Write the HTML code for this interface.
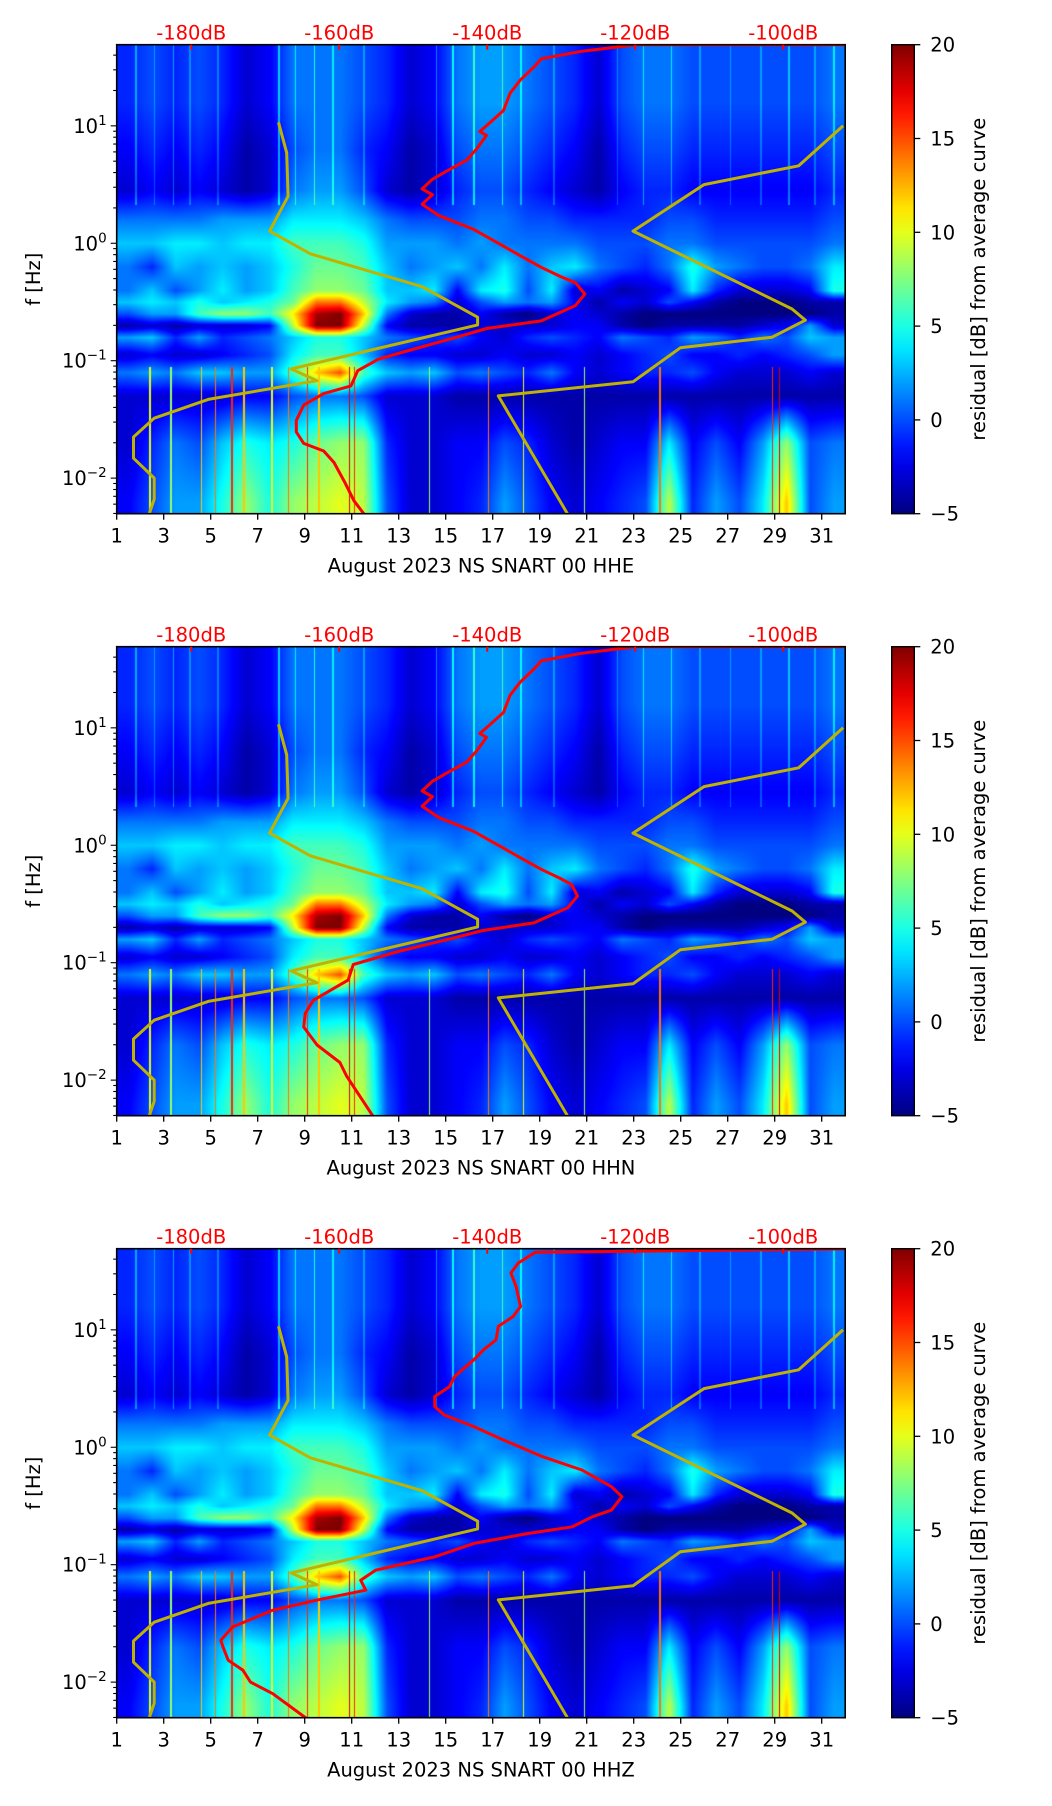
<!DOCTYPE html>
<html><head><meta charset="utf-8">
<style>
html,body{margin:0;padding:0;background:#fff;}
#root{position:relative;width:1052px;height:1806px;overflow:hidden;font-family:"DejaVu Sans","Liberation Sans",sans-serif;}
canvas{position:absolute;}
svg{position:absolute;left:0;top:0;}
</style></head>
<body>
<div id="root"></div>
<script>
// ---------- data ----------
const dayTicks = [1,3,5,7,9,11,13,15,17,19,21,23,25,27,29,31];
const dbTicks = [-180,-160,-140,-120,-100];
const cbTicks = [-5,0,5,10,15,20];
const yDecades = [-2,-1,0,1];
const channels = ["HHE","HHN","HHZ"];
// heatmap rows: log10(f) centers, values per day (day 1..31)
const rowLogF = [1.6,1.2,0.8,0.45,0.2,0.0,-0.2,-0.4,-0.5,-0.6,-0.7,-0.8,-0.95,-1.1,-1.3,-1.7,-2.2];
const rowA = [-1,0,-1,0,-1,-3,-2,1,1,1,0,-1,-3,-2,1,2,2,1,0,-1,-3,0,1,1,0,0,0,0,0,0,1];
const rowB = [-1,0,-1,0,-1,-3,-2,1,1,1,0,-1,-3,-2,1,2,2,1,0,-1,-3,0,1,1,0,0,0,0,0,0,1];
const rowC = [-2,-1,-2,-1,-2,-4,-3,0,1,1,-1,-2,-4,-3,0,1,1,0,-1,-2,-4,-1,0,0,-1,-1,-1,-1,-1,-1,0];
const rowD = [-3,-2,-3,-2,-3,-4,-3,1,2,2,0,-3,-4,-3,-1,0,0,-1,-2,-3,-4,-2,-1,-1,-2,-2,-2,-2,-2,-2,-1];
const rowE = [1,1,1,1,2,2,2,4,4,4,3,1,0,0,0,1,1,0,0,-1,-1,-1,-1,0,0,-1,-1,-1,-1,-1,0];
const rowF = [3,3,4,4,3,4,4,6,6,6,5,2,2,2,1,2,1,1,1,1,0,0,0,1,1,0,0,0,0,0,1];
const rowG = [1,-1,3,2,3,2,3,5,7,7,6,3,1,2,3,1,4,1,3,4,1,0,-1,1,5,2,1,0,0,1,4];
const rowH = [1,3,0,2,4,2,3,6,8,8,7,3,3,4,-2,4,5,0,4,-3,-2,-4,-3,-2,4,-1,-3,-3,-3,-2,5];
const rowI = [3,4,3,5,3,4,5,7,14,14,9,4,2,1,-3,0,2,1,2,-2,-4,-2,-3,0,-2,-4,-5,-5,-5,-4,-4];
const rowJ = [0,2,2,6,8,8,6,11,19,20,12,1,-3,-4,-4,-2,-4,-5,-3,-2,-3,-4,-5,-5,-5,-5,-5,-5,-5,-5,-4];
const rowK = [-4,-3,-4,-3,-3,-3,-2,9,20,20,9,-2,-4,-4,-4,-3,-3,-3,-3,-2,-2,-4,-5,-4,-4,-4,-4,-3,-2,2,-3];
const rowL = [2,3,-1,2,-1,0,1,3,5,5,3,1,0,-1,0,-2,-3,-1,0,-1,-2,1,0,-1,2,1,-1,1,0,3,2];
const rowM = [-3,-2,-3,-3,-2,-1,0,4,6,6,3,-1,-2,-2,-3,-3,-2,-3,-3,-2,-3,-2,-1,0,-2,-2,-1,-2,-1,0,2];
const rowN = [1,2,1,3,3,2,2,6,12,15,6,3,2,3,0,1,0,-1,1,-2,-3,-2,-1,-1,0,-2,-3,-3,-3,-2,-3];
const rowO = [-3,-3,-3,-3,-3,-2,-2,0,1,1,0,-3,-3,-3,-4,-4,-4,-4,-4,-4,-4,-4,-4,-4,-4,-4,-4,-4,-4,-4,-4];
const rowP = [-3,-1,1,0,3,5,4,5,7,8,8,-1,-3,-3,-2,-2,0,-1,-3,-4,-3,-2,-2,4,-2,0,-2,2,8,0,1];
const rowQ = [-2,0,2,2,5,8,5,8,9,10,9,0,-3,-3,-2,-1,2,0,-2,-3,-2,-1,0,9,-1,2,0,4,12,0,2];
const heatRows = [rowA,rowB,rowC,rowD,rowE,rowF,rowG,rowH,rowI,rowJ,rowK,rowL,rowM,rowN,rowO,rowP,rowQ];
const lowStreakDays = [2.4,3.3,4.6,5.2,5.9,6.4,7.6,8.3,9.1,9.6,10.9,11.1,14.3,16.8,18.3,20.9,24.1,28.9,29.2];
const lowStreakVals = [10,8,12,14,16,12,10,14,16,12,18,16,8,14,10,8,14,16,18];
const topStreakDays = [1.8,2.6,3.4,4.1,5.3,7.9,8.6,9.4,10.2,11.5,14.6,15.3,16.2,17.4,18.2,19.6,22.3,23.4,24.6,25.8,27.1,28.4,29.6,30.7,31.5];
const topStreakVals = [3,2,3,2,2,4,3,4,3,2,3,4,4,4,3,2,2,3,3,2,2,2,3,2,3];
// noise models [log10 f, dB]
const nlnmLogF = [1.03,0.77,0.40,0.104,-0.09,-0.37,-0.63,-0.695,-1.07,-1.17,-1.33,-1.49,-1.65,-1.83,-2.0,-2.18,-2.31];
const nlnmDB = [-168.2,-167.1,-166.9,-169.4,-163.9,-148.8,-141.3,-141.3,-166.5,-163.0,-177.7,-185.0,-187.8,-187.8,-185.0,-185.0,-185.7];
const nhnmLogF = [1.0,0.66,0.50,0.104,-0.56,-0.655,-0.80,-0.89,-1.18,-1.30,-2.31];
const nhnmDB = [-91.9,-97.9,-110.7,-120.3,-98.8,-97.0,-101.5,-113.9,-120.3,-138.5,-129.1];
// average curves [log10 f] and [dB]
const avg1LogF = [1.69,1.69,1.636,1.571,1.506,1.392,1.278,1.131,1.001,0.952,0.919,0.805,0.707,0.610,0.545,0.463,0.414,0.333,0.235,0.121,-0.010,-0.107,-0.205,-0.286,-0.335,-0.433,-0.531,-0.661,-0.726,-0.792,-0.857,-0.922,-0.987,-1.085,-1.215,-1.280,-1.378,-1.508,-1.606,-1.704,-1.769,-1.867,-2.030,-2.193,-2.31];
const avg1DB = [-90.5,-119.9,-127.2,-132.7,-133.6,-135.5,-136.9,-137.8,-140.1,-141.0,-140.1,-141.4,-142.8,-145.6,-147.4,-148.8,-147.4,-148.8,-146.5,-141.9,-138.2,-135.5,-132.7,-130.0,-128.1,-126.8,-128.1,-132.7,-140.1,-143.7,-147.4,-151.1,-154.7,-157.5,-158.4,-162.1,-164.8,-165.8,-165.8,-164.8,-162.1,-160.7,-159.3,-158.0,-156.6];
const avg2LogF = [1.69,1.69,1.636,1.571,1.506,1.392,1.278,1.131,1.001,0.952,0.919,0.805,0.707,0.610,0.545,0.463,0.414,0.333,0.235,0.121,-0.010,-0.107,-0.205,-0.286,-0.335,-0.433,-0.531,-0.661,-0.726,-0.792,-0.900,-1.015,-1.148,-1.32,-1.433,-1.548,-1.70,-1.85,-1.966,-2.31];
const avg2DB = [-90.5,-119.9,-127.2,-132.7,-133.6,-135.5,-136.9,-137.8,-140.1,-141.0,-140.1,-141.4,-142.8,-145.6,-147.4,-148.8,-147.4,-148.8,-146.5,-141.9,-138.2,-135.5,-132.7,-130.0,-128.6,-127.8,-129.1,-133.7,-140.6,-144.7,-151.8,-158.1,-158.8,-163.5,-164.6,-164.8,-163.0,-159.9,-159.0,-155.4];
const avg3LogF = [1.69,1.66,1.569,1.484,1.370,1.199,1.114,1.029,0.915,0.830,0.745,0.659,0.602,0.517,0.432,0.346,0.275,0.176,0.062,-0.080,-0.194,-0.336,-0.421,-0.535,-0.592,-0.677,-0.734,-0.819,-0.933,-0.990,-1.047,-1.132,-1.217,-1.302,-1.388,-1.530,-1.644,-1.700,-1.814,-1.899,-1.999,-2.098,-2.31];
const avg3DB = [-90.3,-133.5,-135.8,-136.8,-136.1,-135.5,-136.5,-138.5,-138.8,-140.5,-141.8,-143.4,-144.4,-145.1,-147.1,-147.1,-145.8,-141.8,-137.8,-132.5,-127.2,-123.2,-121.8,-123.2,-125.8,-128.5,-134.5,-141.8,-147.1,-151.1,-155.1,-157.1,-156.4,-163.1,-169.0,-174.4,-176.0,-175.7,-175.0,-173.0,-172.0,-169.0,-164.4];
const avgLogF = [avg1LogF,avg2LogF,avg3LogF];
const avgDB = [avg1DB,avg2DB,avg3DB];

// ---------- layout ----------
const L = 116.7, DAYW = 23.5, DAY0 = 1, DAY1 = 32, R = L + 31*DAYW;
const H = 469, TOP0 = 44.7, PSTEP = 602;
const LOGMAX = 1.691, LOGMIN = -2.303;
const VMIN = -5, VMAX = 20;
const CBL = 891.7, CBR = 914.3;
const NS = "http://www.w3.org/2000/svg";
const root = document.getElementById('root');
const svg = document.createElementNS(NS,'svg');
svg.setAttribute('width','1052'); svg.setAttribute('height','1806');
function xDay(d){ return L + (d-DAY0)*DAYW; }
function yLog(top,lf){ return top + (LOGMAX-lf)/(LOGMAX-LOGMIN)*H; }
function xDB(db){ return 191.2 + (db+180)*7.4; }
function jet(v){
  let t=(v-VMIN)/(VMAX-VMIN); t=Math.max(0,Math.min(1,t));
  const c=x=>Math.max(0,Math.min(1,x));
  return [c(1.5-Math.abs(4*t-3)),c(1.5-Math.abs(4*t-2)),c(1.5-Math.abs(4*t-1))].map(x=>Math.round(x*255));
}
function el(tag,attrs,parent){ const e=document.createElementNS(NS,tag); for(const k in attrs) e.setAttribute(k,attrs[k]); (parent||svg).appendChild(e); return e; }
function txt(x,y,s,attrs,parent){ const t=el('text',Object.assign({x:x,y:y,'font-size':'19.5','font-family':'DejaVu Sans, Liberation Sans, sans-serif','fill':'#000'},attrs||{}),parent); t.textContent=s; return t; }

function heatValue(day,lf){
  let c = day - 1.5; c=Math.max(0,Math.min(30,c));
  const c0=Math.floor(c), c1=Math.min(30,c0+1), fc=c-c0;
  let r=0; while(r<rowLogF.length-2 && lf<rowLogF[r+1]) r++;
  let fr;
  if(lf>=rowLogF[0]){ r=0; fr=0; } else if(lf<=rowLogF[rowLogF.length-1]){ r=rowLogF.length-2; fr=1; }
  else fr=(rowLogF[r]-lf)/(rowLogF[r]-rowLogF[r+1]);
  const a=heatRows[r], b=heatRows[r+1];
  const va=a[c0]*(1-fc)+a[c1]*fc, vb=b[c0]*(1-fc)+b[c1]*fc;
  let v=va*(1-fr)+vb*fr;
  if(lf<-1.05){
    for(let i=0;i<lowStreakDays.length;i++){ if(Math.abs(day-lowStreakDays[i])<0.03) v=Math.max(v,lowStreakVals[i]); }
  }
  if(lf>0.33){
    for(let i=0;i<topStreakDays.length;i++){ if(Math.abs(day-topStreakDays[i])<0.035) v=Math.max(v,v+topStreakVals[i]); }
  }
  return v;
}

function drawPanel(p){
  const top = TOP0 + p*PSTEP, bot = top+H;
  const g = el('g',{}); 
  
  
  const cv=document.createElement('canvas');
  const W=Math.round(R-L), HH=Math.round(H);
  cv.width=W; cv.height=HH;
  cv.style.left=L+'px'; cv.style.top=top+'px'; cv.style.width=W+'px'; cv.style.height=HH+'px';
  
  
  const ctx=cv.getContext('2d'); const img=ctx.createImageData(W,HH);
  for(let y=0;y<HH;y++){
    const lf=LOGMAX-(y+0.5)/HH*(LOGMAX-LOGMIN);
    for(let x=0;x<W;x++){
      const day=DAY0+(x+0.5)/DAYW;
      const col=jet(heatValue(day,lf));
      const i=(y*W+x)*4; img.data[i]=col[0]; img.data[i+1]=col[1]; img.data[i+2]=col[2]; img.data[i+3]=255;
    }
  }
  ctx.putImageData(img,0,0);
  root.appendChild(cv);
  const cp=el('clipPath',{id:'clip'+p},g); el('rect',{x:L,y:top,width:R-L,height:H},cp);
  const lines=el('g',{'clip-path':'url(#clip'+p+')'},g);
  function poly(lfs,dbs,color,w,name){
    const pts=lfs.map((lf,i)=>xDB(dbs[i]).toFixed(1)+','+yLog(top,lf).toFixed(1)).join(' ');
    const pl=el('polyline',{points:pts,fill:'none',stroke:color,'stroke-width':w,'stroke-linejoin':'round'},lines);
    
    
  }
  poly(nlnmLogF,nlnmDB,'#bfb300',3,'nlnm-curve');
  poly(nhnmLogF,nhnmDB,'#bfb300',3,'nhnm-curve');
  poly(avgLogF[p],avgDB[p],'#ff0000',3,'average-curve');
  el('rect',{x:L,y:top,width:R-L,height:H,fill:'none',stroke:'#000','stroke-width':1.6},g);
  dayTicks.forEach(d=>{
    const x=xDay(d);
    el('line',{x1:x,y1:bot,x2:x,y2:bot+6,stroke:'#000','stroke-width':1.3},g);
    const t=txt(x,bot+29,String(d),{'text-anchor':'middle'},g);
    
    
  });
  for(let dec=-3;dec<=1;dec++){
    for(let m=1;m<=9;m++){
      const lf=dec+Math.log10(m);
      if(lf<LOGMIN||lf>LOGMAX) continue;
      const y=yLog(top,lf);
      el('line',{x1:L,y1:y,x2:L-(m===1?6:3.5),y2:y,stroke:'#000','stroke-width':1.1},g);
    }
  }
  yDecades.forEach(dec=>{
    const y=yLog(top,dec);
    const t=txt(L-10,y+7,'10',{'text-anchor':'end'},g);
    const s=el('tspan',{'font-size':'13.5',dy:'-8'},t); s.textContent=(dec<0?'\u2212':'')+Math.abs(dec);
    
    
  });
  dbTicks.forEach(db=>{
    const x=xDB(db);
    el('line',{x1:x,y1:top,x2:x,y2:top+5,stroke:'#ff0000','stroke-width':2},g);
    const t=txt(x,top-5,db+'dB',{'text-anchor':'middle',fill:'#ff0000'},g);
    
    
  });
  const xt=txt((L+R)/2,bot+59,'August 2023 NS SNART 00 '+channels[p],{'text-anchor':'middle'},g);
  
  
  const yt=txt(0,0,'f [Hz]',{'text-anchor':'middle',transform:'translate(40,'+(top+H/2)+') rotate(-90)'},g);
  
  
  const gid='cbg'+p;
  const defs=el('defs',{},g);
  const lg=el('linearGradient',{id:gid,x1:0,y1:1,x2:0,y2:0},defs);
  for(let i=0;i<=20;i++){ const v=VMIN+(VMAX-VMIN)*i/20; const c=jet(v); el('stop',{offset:i/20,'stop-color':'rgb('+c.join(',')+')'},lg); }
  const cb=el('rect',{x:CBL,y:top,width:CBR-CBL,height:H,fill:'url(#'+gid+')',stroke:'#000','stroke-width':1.4},g);
  
  
  cbTicks.forEach(v=>{
    const y=bot-(v-VMIN)/(VMAX-VMIN)*H;
    el('line',{x1:CBR,y1:y,x2:CBR+6,y2:y,stroke:'#000','stroke-width':1.3},g);
    const t=txt(CBR+16,y+7,(v<0?'\u2212':'')+Math.abs(v),{},g);
    
    
  });
  const ct=txt(0,0,'residual [dB] from average curve',{'text-anchor':'middle',transform:'translate(985,'+(top+H/2)+') rotate(-90)'},g);
  
  
}
for(let p=0;p<3;p++) drawPanel(p);
root.appendChild(svg);
</script>
</body></html>
